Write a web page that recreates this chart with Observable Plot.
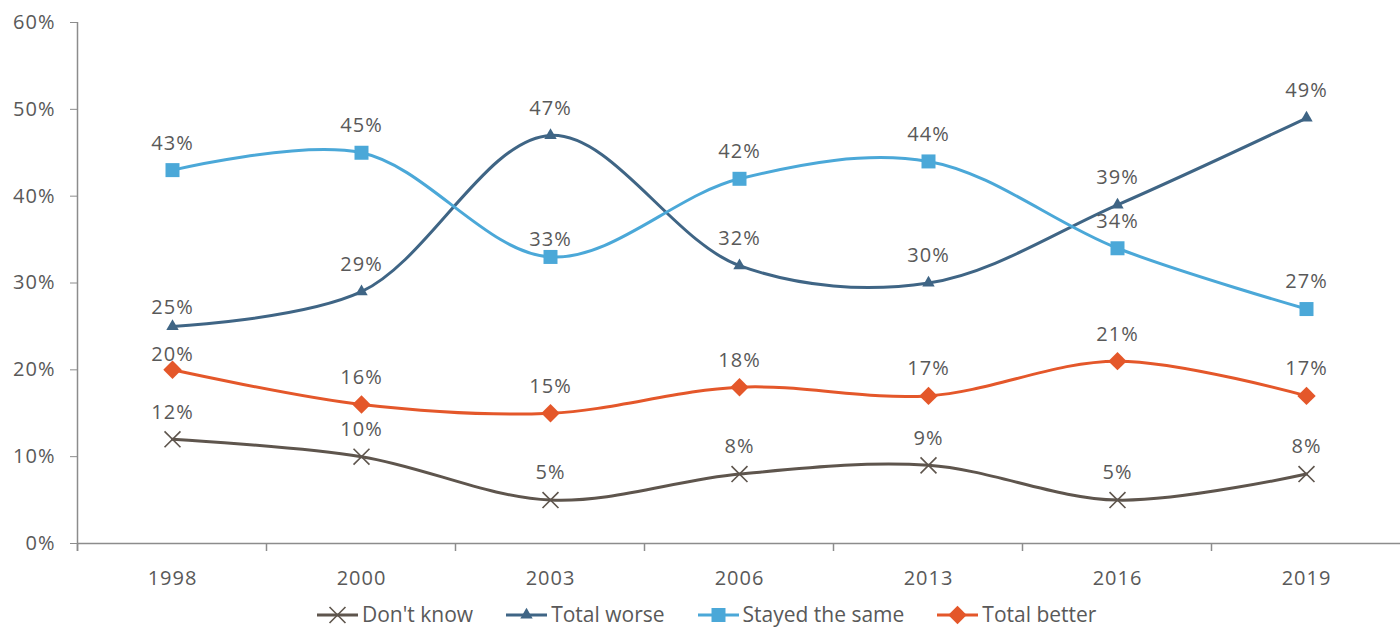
<!DOCTYPE html>
<html>
<head>
<meta charset="utf-8">
<script src="https://cdn.jsdelivr.net/npm/d3@7"></script>
<script src="https://cdn.jsdelivr.net/npm/@observablehq/plot@0.6"></script>
<style>
  html, body { margin: 0; padding: 0; background: #fff; overflow: hidden; }
  body { width: 1400px; height: 627px; font-family: "Open Sans", sans-serif; color: #595959; }
  #legend { display: flex; align-items: center; height: 27px; margin-top: 1px; padding-left: 317px; gap: 33px; font-size: 21px; color: #595959; line-height: 27px; }
  #legend .item { display: flex; align-items: center; gap: 4px; white-space: nowrap; }
</style>
</head>
<body>
<div id="chart"></div>
<div id="legend"></div>
<script>
const years = ["1998", "2000", "2003", "2006", "2013", "2016", "2019"];
const seriesNames = ["Don't know", "Total worse", "Stayed the same", "Total better"];
const dontKnow = [12, 10, 5, 8, 9, 5, 8];
const totalWorse = [25, 29, 47, 32, 30, 39, 49];
const stayedSame = [43, 45, 33, 42, 44, 34, 27];
const totalBetter = [20, 16, 15, 18, 17, 21, 17];
const yTicks = [0, 10, 20, 30, 40, 50, 60];

const seriesValues = [dontKnow, totalWorse, stayedSame, totalBetter];
const colors = ["#5e554d", "#3f6585", "#4ba8d8", "#e4572a"];
const symbols = ["times", "triangle", "square", "diamond2"];
const symbolR = [7.3, 4.6, 7.9, 8.3];
const filled = [false, true, true, true];

// per-label vertical nudges (style overrides, px)
const labelDy = {"Total better|1998": -15, "Total worse|1998": -19, "Stayed the same|2003": -17};

const rows = [];
seriesNames.forEach((s, i) => years.forEach((y, j) => rows.push({series: s, year: y, value: seriesValues[i][j]})));

const W = 1400, H = 600;
const marks = [];
seriesNames.forEach((s, i) => {
  const data = rows.filter(r => r.series === s);
  marks.push(Plot.line(data, {x: "year", y: "value", stroke: colors[i], strokeWidth: 3, curve: "catmull-rom"}));
  marks.push(Plot.dot(data, filled[i]
    ? {x: "year", y: "value", symbol: () => symbols[i], r: symbolR[i], fill: colors[i], stroke: "none"}
    : {x: "year", y: "value", symbol: () => symbols[i], r: symbolR[i], stroke: colors[i], strokeWidth: 1.6, fill: "none"}));
});
seriesNames.forEach((s, i) => {
  const data = rows.filter(r => r.series === s);
  data.forEach(d => {
    marks.push(Plot.text([d], {x: "year", y: "value", text: d => d.value + "%", dy: labelDy[s + "|" + d.year] ?? -27, fill: "#595959", fontSize: 20}));
  });
});

const chart = Plot.plot({
  width: W,
  height: H,
  marginLeft: 77,
  marginRight: 0,
  marginTop: 22,
  marginBottom: H - 543,
  style: {fontFamily: "Open Sans, sans-serif", fontSize: "20px", color: "#595959", background: "#fff", overflow: "visible", letterSpacing: "1px"},
  x: {type: "point", domain: years, padding: 0.5, label: null},
  y: {domain: [0, 60], label: null},
  symbol: {type: "identity"},
  marks: [
    Plot.axisY({ticks: yTicks, tickFormat: d => d + "%", tickSize: 7, tickPadding: 15, stroke: "#8c8c8c", fill: "#595959", label: null, fontSize: 20}),
    Plot.axisX({tickSize: 0, tickPadding: 27, fill: "#595959", label: null, fontSize: 20}),
    Plot.ruleY([0], {stroke: "#8c8c8c", strokeWidth: 1.5}),
    ...marks
  ]
});
document.getElementById("chart").appendChild(chart);

// axis line on left and category separator ticks at bottom
const sx = chart.scale("x");
const sy = chart.scale("y");
const svg = d3.select(chart);
const step = sx.step ?? ((sx.range[1] - sx.range[0]) / years.length);
const y0 = sy.apply(0);
const yTop = sy.apply(60);
const g = svg.insert("g", ":first-child").attr("stroke", "#8c8c8c").attr("stroke-width", 1.5);
const left = sx.apply(years[0]) - step / 2;
g.append("line").attr("x1", left).attr("x2", left).attr("y1", yTop).attr("y2", y0 + 8);
years.forEach(y => {
  const xp = sx.apply(y) - step / 2;
  g.append("line").attr("x1", xp).attr("x2", xp).attr("y1", y0).attr("y2", y0 + 8);
});

// legend
const legend = d3.select("#legend");
const symMap = {times: d3.symbolTimes, triangle: d3.symbolTriangle, square: d3.symbolSquare, diamond2: d3.symbolDiamond2};
seriesNames.forEach((s, i) => {
  const item = legend.append("div").attr("class", "item");
  const sw = item.append("svg").attr("width", 41).attr("height", 20);
  sw.append("line").attr("x1", 0).attr("x2", 41).attr("y1", 10).attr("y2", 10).attr("stroke", colors[i]).attr("stroke-width", 3);
  const size = Math.PI * symbolR[i] * symbolR[i];
  const p = sw.append("path").attr("transform", "translate(20.5,10)").attr("d", d3.symbol(symMap[symbols[i]], size)());
  if (filled[i]) p.attr("fill", colors[i]); else p.attr("fill", "none").attr("stroke", colors[i]).attr("stroke-width", 1.6);
  item.append("span").text(s);
});
</script>
</body>
</html>
